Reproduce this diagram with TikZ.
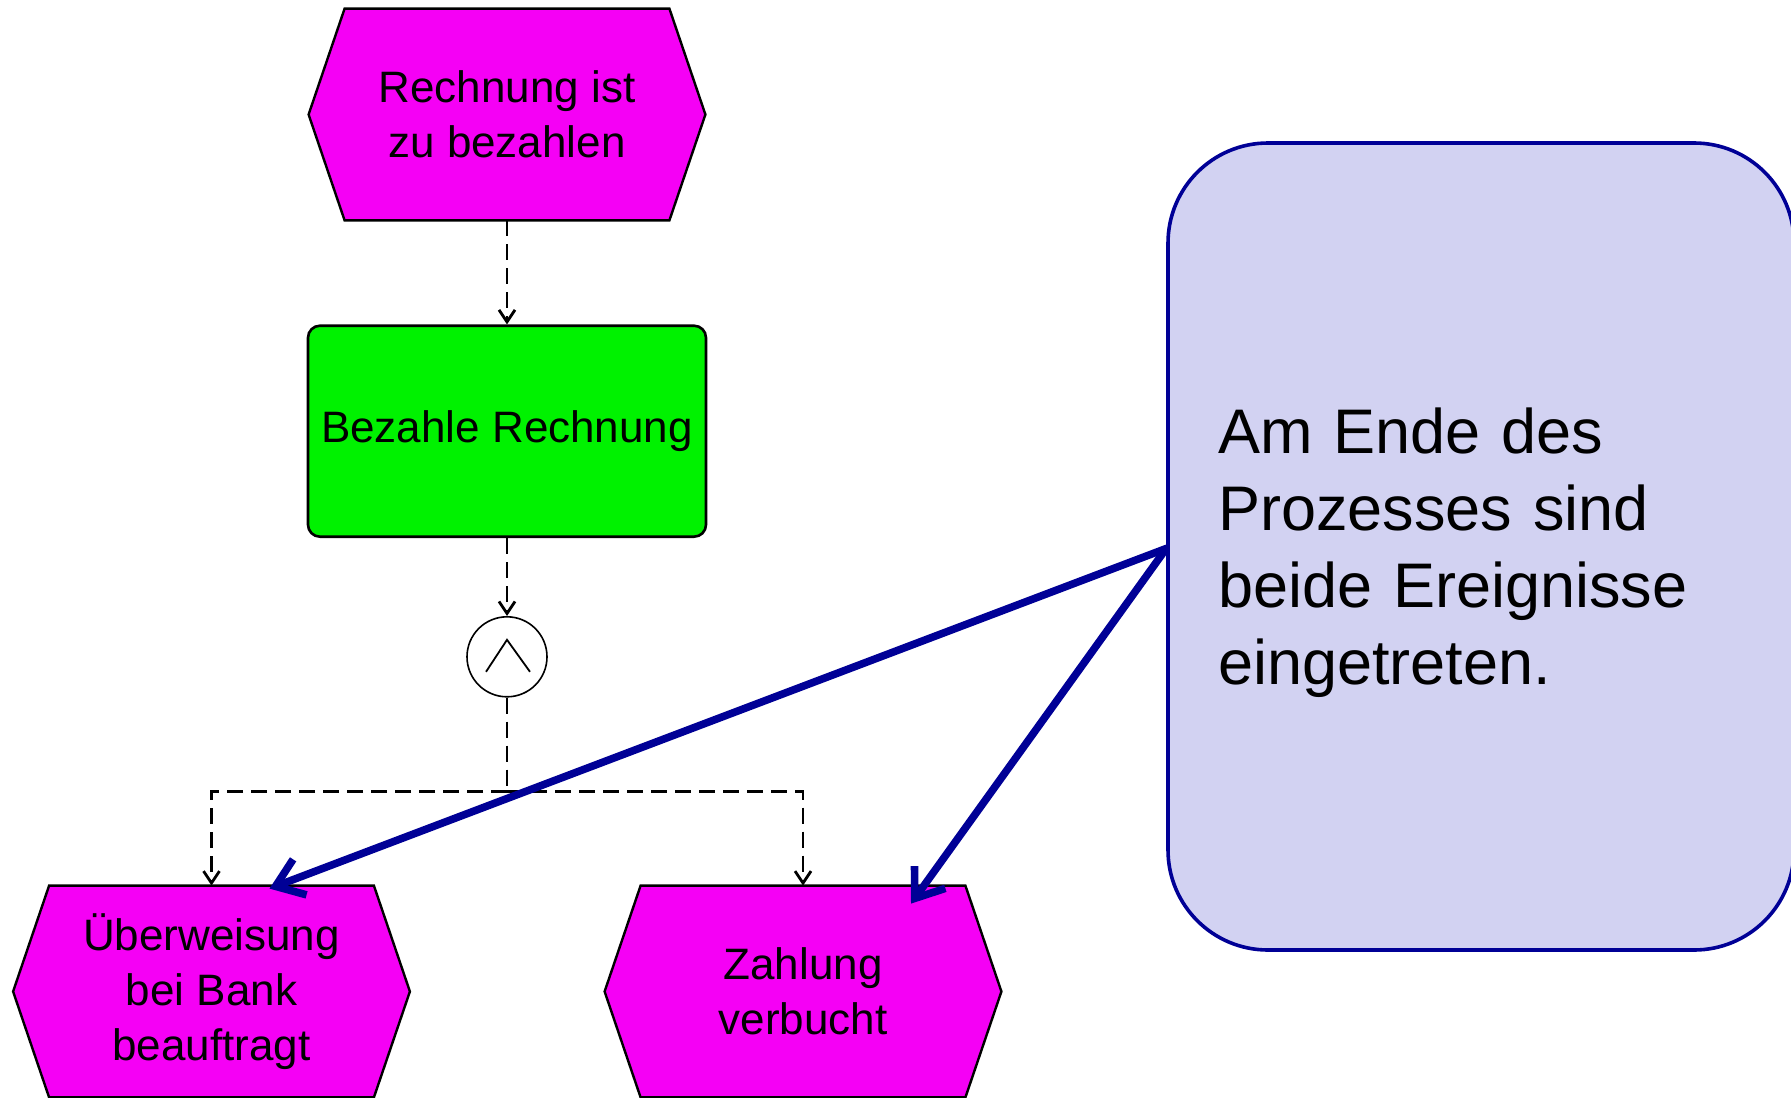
\documentclass[tikz,border=0pt]{standalone}
\usepackage{fontspec}
\setmainfont{Liberation Sans}
\usetikzlibrary{positioning,arrows.meta,backgrounds}

\definecolor{evmagenta}{RGB}{245,0,245}
\definecolor{fngreen}{RGB}{0,242,0}
\definecolor{notefill}{RGB}{210,210,242}
\definecolor{noteblue}{RGB}{0,0,150}

\tikzset{
  event/.style={minimum width=198pt, minimum height=105.5pt, inner sep=0pt, align=center, font=\fontsize{22}{27.5}\selectfont},
  evshape/.style={fill=evmagenta, draw=black, line width=1.2pt},
  func/.style={draw, line width=1.3pt, rounded corners=6pt, fill=fngreen, minimum width=199pt, minimum height=105.5pt, font=\fontsize{22}{27.5}\selectfont},
  conn/.style={draw, circle, fill=white, line width=0.8pt, minimum size=40pt, inner sep=0pt},
  flow/.style={line width=1.4pt, dash pattern=on 8pt off 4pt, -{Straight Barb[length=6pt,width=8pt]}},
  notebox/.style={draw=noteblue, fill=notefill, line width=1.8pt, rounded corners=50pt, minimum width=313pt, minimum height=403.5pt, text width=263pt, inner xsep=25pt, align=left, font=\fontsize{31.5}{38.5}\selectfont},
  notearrow/.style={draw=noteblue, line width=3.8pt, line cap=round, -{Straight Barb[length=13pt,width=19pt]}}
}

\begin{document}
\begin{tikzpicture}[x=0.5pt, y=-0.5pt]
  \useasboundingbox (0,0) rectangle (1791,1097);

  \node[event] (due) at (507,114.5) {Rechnung ist\\zu bezahlen};
  \node[func, below=52pt of due] (pay) {Bezahle Rechnung};
  \node[conn, below=39pt of pay] (and) {};
  \node[event] (order) at (211.5,991.5) {Überweisung\\bei Bank\\beauftragt};
  \node[event] (booked) at (803,991.5) {Zahlung\\verbucht};
  \node[notebox] (note) at (1481,546.5) {\rule{0pt}{29pt}Am Ende des\\Prozesses sind\\beide Ereignisse\\eingetreten.};

  % hexagons behind the event texts
  \begin{scope}[on background layer]
    \foreach \ev in {due,order,booked}
      \filldraw[evshape] (\ev.west) -- ([xshift=18pt]\ev.north west) -- ([xshift=-18pt]\ev.north east)
        -- (\ev.east) -- ([xshift=-18pt]\ev.south east) -- ([xshift=18pt]\ev.south west) -- cycle;
  \end{scope}

  \draw[line width=0.9pt] ([shift={(-21,15)}]and.center) -- ([shift={(0,-17)}]and.center) -- ([shift={(23,15)}]and.center);

  \coordinate (split) at ([yshift=-47pt]and.south);
  \draw[flow] (due) -- (pay);
  \draw[flow] (pay) -- (and);
  \draw[flow, -] (and) -- (split);
  \draw[flow] (split) -| (order);
  \draw[flow] (split) -| (booked);

  \draw[notearrow] ([yshift=-1pt]note.west) -- ([xshift=29pt,yshift=-1.5pt]order.north);
  \draw[notearrow] ([yshift=-1pt]note.west) -- ([xshift=54pt,yshift=-9pt]booked.north);
\end{tikzpicture}
\end{document}
